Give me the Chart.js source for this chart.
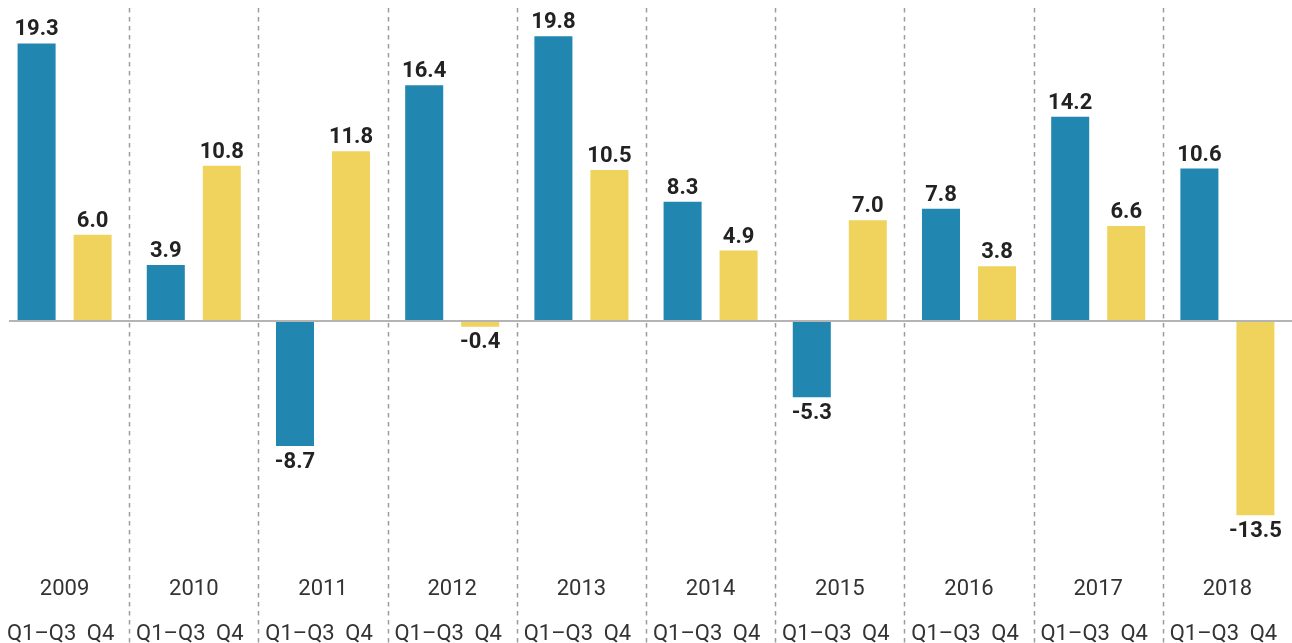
<!DOCTYPE html>
<html>
<head>
<meta charset="utf-8">
<script src="https://cdn.jsdelivr.net/npm/chart.js@4"></script>
<style>
  html, body { margin: 0; padding: 0; background: #fff; }
  #wrap { width: 1292px; height: 643px; position: relative; }
</style>
</head>
<body>
<div id="wrap"><canvas id="growthChart"></canvas></div>
<script>
const years = ['2009', '2010', '2011', '2012', '2013', '2014', '2015', '2016', '2017', '2018'];
const q1q3 = [19.3, 3.9, -8.7, 16.4, 19.8, 8.3, -5.3, 7.8, 14.2, 10.6];
const q4 = [6.0, 10.8, 11.8, -0.4, 10.5, 4.9, 7.0, 3.8, 6.6, -13.5];
const periodLabels = ['Q1–Q3', 'Q4'];

const BLUE = '#2187b0';
const YELLOW = '#f0d35c';

// separators, zero line and all the text
const overlay = {
    id: 'overlay',
    afterDatasetsDraw(chart) {
        const ctx = chart.ctx;
        const x = chart.scales.x;
        const y = chart.scales.y;
        const h = chart.height;

        ctx.save();
        // dashed separators between years
        ctx.strokeStyle = '#9c9c9c';
        ctx.lineWidth = 1.5;
        ctx.setLineDash([4.5, 4.5]);
        for (let i = 1; i < years.length; i++) {
            const sx = Math.round((x.getPixelForValue(i - 1) + x.getPixelForValue(i)) / 2) + 0.5;
            ctx.beginPath();
            ctx.moveTo(sx, 8);
            ctx.lineTo(sx, h);
            ctx.stroke();
        }
        ctx.setLineDash([]);

        // zero line
        const zy = y.getPixelForValue(0);
        ctx.strokeStyle = '#b4b4b4';
        ctx.lineWidth = 2;
        ctx.beginPath();
        ctx.moveTo(9, zy);
        ctx.lineTo(chart.width, zy);
        ctx.stroke();

        // value labels
        ctx.fillStyle = '#222';
        ctx.font = 'bold 22px Roboto';
        ctx.textAlign = 'center';
        chart.data.datasets.forEach((ds, di) => {
            chart.getDatasetMeta(di).data.forEach((bar, i) => {
                const v = ds.data[i];
                if (v >= 0) {
                    ctx.textBaseline = 'alphabetic';
                    ctx.fillText(v.toFixed(1), bar.x, bar.y - 8);
                } else {
                    ctx.textBaseline = 'top';
                    ctx.fillText(v.toFixed(1), bar.x, bar.y + 5);
                }
            });
        });

        // year and period labels
        ctx.fillStyle = '#333';
        ctx.font = '22px Roboto';
        ctx.textBaseline = 'alphabetic';
        years.forEach((yr, i) => {
            ctx.fillText(yr, x.getPixelForValue(i), 595);
        });
        chart.data.datasets.forEach((ds, di) => {
            chart.getDatasetMeta(di).data.forEach((bar) => {
                ctx.fillText(periodLabels[di], bar.x + (di === 0 ? 5 : 8), 640);
            });
        });
        ctx.restore();
    }
};

new Chart(document.getElementById('growthChart'), {
    type: 'bar',
    data: {
        labels: years,
        datasets: [{
            label: periodLabels[0],
            data: q1q3,
            backgroundColor: BLUE,
            categoryPercentage: 0.867,
            barPercentage: 0.679
        }, {
            label: periodLabels[1],
            data: q4,
            backgroundColor: YELLOW,
            categoryPercentage: 0.867,
            barPercentage: 0.679
        }]
    },
    options: {
        responsive: true,
        maintainAspectRatio: false,
        animation: false,
        layout: { padding: 0 },
        scales: {
            x: { display: false, offset: true },
            y: { display: false, min: -22.39, max: 22.32 }
        },
        plugins: {
            legend: { display: false },
            tooltip: { enabled: false }
        }
    },
    plugins: [overlay]
});
</script>
</body>
</html>
